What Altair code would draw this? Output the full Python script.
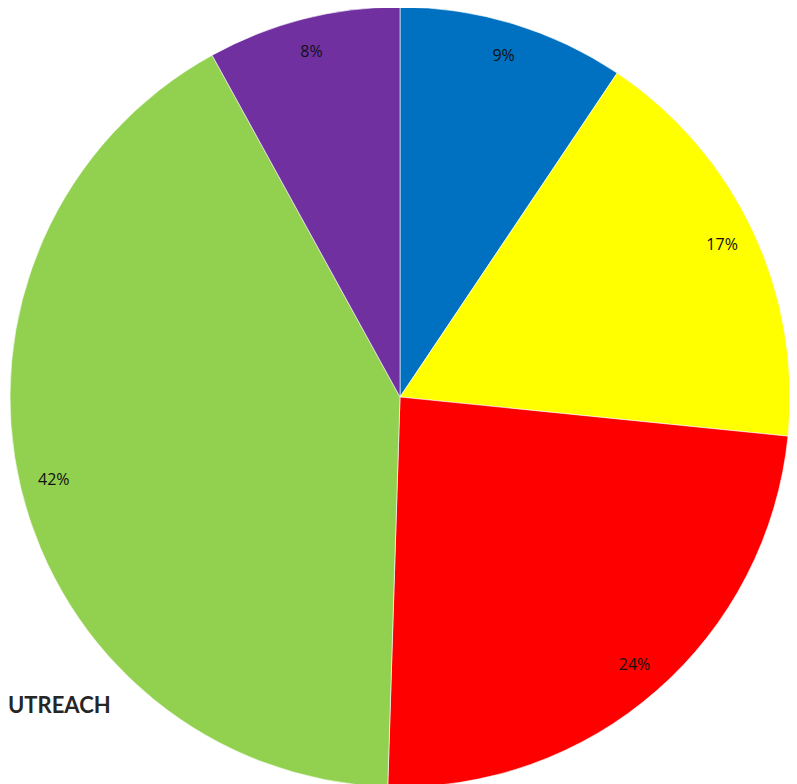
import altair as alt
import pandas as pd

categories = ["Blue", "Yellow", "Red", "Green", "Purple"]
values = [9.4, 17.2, 23.9, 41.5, 8.0]
labels = ["9%", "17%", "24%", "42%", "8%"]
colors = ["#0070C0", "#FFFF00", "#FF0000", "#92D050", "#7030A0"]
title_text = ["UTREACH"]

df = pd.DataFrame({
    "category": categories,
    "value": values,
    "label": labels,
    "order": list(range(len(categories))),
})

base = alt.Chart(df).encode(
    theta=alt.Theta("value:Q", stack=True),
    order=alt.Order("order:Q"),
    x=alt.value(392),
    y=alt.value(389),
)

pie = base.mark_arc(outerRadius=390, stroke="#ffffff", strokeWidth=0.6).encode(
    color=alt.Color("category:N",
                    scale=alt.Scale(domain=categories, range=colors),
                    legend=None),
)

text = base.mark_text(radius=356, font="Open Sans", fontSize=16, color="#111111").encode(
    text="label:N",
)

title = alt.Chart(pd.DataFrame({"t": title_text})).mark_text(
    font="Lato", fontSize=22, fontWeight="bold", color="#262626",
    align="left", baseline="middle",
).encode(
    text="t:N",
    x=alt.value(0),
    y=alt.value(698),
)

chart = alt.layer(pie, text, title).properties(
    width=781,
    height=776,
    autosize=alt.AutoSizeParams(type="none"),
    padding=0,
    background="#ffffff",
).configure_view(stroke=None)

chart.save("out.html", embed_options={"renderer": "svg", "actions": False})
